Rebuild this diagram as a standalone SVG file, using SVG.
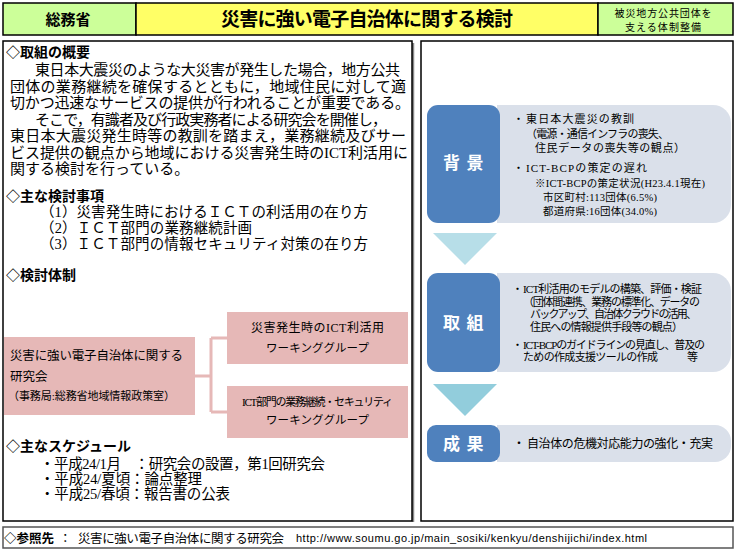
<svg xmlns="http://www.w3.org/2000/svg" width="737" height="551" viewBox="0 0 737 551">
<style>
.g{font-family:'Noto Sans CJK JP','Noto Sans',sans-serif;fill:#000}
.gb{font-family:'Noto Sans CJK JP','Noto Sans',sans-serif;font-weight:bold;fill:#000}
.m{font-family:'Liberation Serif','Noto Sans CJK JP',serif;fill:#000}
.h{font-size:14px}
.b{font-size:15px}
.i{font-size:14.5px}
.r{font-size:11px}
.frame{fill:#fff;stroke:#000;stroke-width:1.5}
.hd{stroke:#000;stroke-width:1.5}
.pink{fill:#e6b8b7}
.blue{fill:#4f81bd}
.lt{fill:#dae0ea}
.lab{font-family:'Noto Sans CJK JP',sans-serif;font-weight:bold;font-size:17px;fill:#fff;text-anchor:middle}
.ctr{text-anchor:middle}
.conn{fill:none;stroke:#e6b8b7;stroke-width:3}
</style>
<rect width="737" height="551" fill="#fff"/>

<g id="header">
<rect class="hd" x="3" y="3" width="133" height="32" fill="#ccff99"/>
<rect class="hd" x="136" y="3" width="462" height="32" fill="#ffff66"/>
<rect class="hd" x="598" y="3" width="135" height="32" fill="#ccff99"/>
<text class="gb ctr" x="68" y="24.5" font-size="15">総務省</text>
<text class="gb ctr" x="367" y="26" font-size="19" textLength="292">災害に強い電子自治体に関する検討</text>
<text class="g ctr" x="663" y="16.5" font-size="10" textLength="97">被災地方公共団体を</text>
<text class="g ctr" x="663" y="31" font-size="10" textLength="76">支える体制整備</text>
</g>

<g id="left-panel">
<line x1="413" y1="43" x2="413" y2="522" stroke="#888" stroke-width="2.5"/>
<rect class="frame" x="3" y="41" width="409" height="480"/>
<text class="gb h" x="6" y="57">◇取組の概要</text>
<text class="m b" x="35" y="75" textLength="365">東日本大震災のような大災害が発生した場合，地方公共</text>
<text class="m b" x="10" y="91.5" textLength="396">団体の業務継続を確保するとともに，地域住民に対して適</text>
<text class="m b" x="10" y="108" textLength="400">切かつ迅速なサービスの提供が行われることが重要である。</text>
<text class="m b" x="35" y="124.5" textLength="352">そこで，有識者及び行政実務者による研究会を開催し，</text>
<text class="m b" x="10" y="141" textLength="396">東日本大震災発生時等の教訓を踏まえ，業務継続及びサー</text>
<text class="m b" x="10" y="157.5" textLength="398">ビス提供の観点から地域における災害発生時のICT利活用に</text>
<text class="m b" x="10" y="174">関する検討を行っている。</text>

<text class="gb h" x="6" y="201">◇主な検討事項</text>
<text class="m i" x="40" y="217" textLength="328">（1）災害発生時におけるＩＣＴの利活用の在り方</text>
<text class="m i" x="40" y="233" textLength="212">（2）ＩＣＴ部門の業務継続計画</text>
<text class="m i" x="40" y="249" textLength="328">（3）ＩＣＴ部門の情報セキュリティ対策の在り方</text>

<text class="gb h" x="6" y="280">◇検討体制</text>

<text class="gb h" x="6" y="451">◇主なスケジュール</text>
<text class="m i" x="40" y="469" textLength="285">・平成24/1月　：研究会の設置，第1回研究会</text>
<text class="m i" x="40" y="484" textLength="162">・平成24/夏頃：論点整理</text>
<text class="m i" x="40" y="499" textLength="190">・平成25/春頃：報告書の公表</text>
</g>

<g id="connectors">
<path class="conn" d="M195 376 H211 M211 338 V412 M211 338 H227 M211 412 H227"/>
</g>

<g id="node-kenkyukai">
<rect class="pink" x="4" y="337" width="191" height="78"/>
<text class="m" x="10" y="359.5" font-size="12.5" textLength="173">災害に強い電子自治体に関する</text>
<text class="m" x="10" y="380.5" font-size="12.5">研究会</text>
<text class="m" x="8" y="400" font-size="11" textLength="167">（事務局:総務省地域情報政策室）</text>
</g>

<g id="node-wg1">
<rect class="pink" x="227" y="312" width="181" height="52"/>
<text class="m ctr" x="317.5" y="331.5" font-size="12" textLength="133">災害発生時のICT利活用</text>
<text class="m ctr" x="317.5" y="351.5" font-size="11.5" textLength="103">ワーキンググループ</text>
</g>

<g id="node-wg2">
<rect class="pink" x="227" y="386" width="181" height="52"/>
<text class="m ctr" x="317.5" y="405.5" font-size="11" textLength="151">ICT部門の業務継続・セキュリティ</text>
<text class="m ctr" x="317.5" y="423.5" font-size="11.5" textLength="103">ワーキンググループ</text>
</g>

<g id="right-panel">
<rect class="frame" x="421" y="41" width="312" height="480"/>
</g>

<g id="node-haikei">
<path class="lt" d="M497 105 H713 A18 18 0 0 1 731 123 V205 A18 18 0 0 1 713 223 H497 Z"/>
<rect class="blue" x="427" y="105" width="73" height="118" rx="11"/>
<text class="lab" x="451.5 475" y="169">背景</text>
<text class="m r" x="513" y="123">・</text>
<text class="m r" x="526" y="123" textLength="108">東日本大震災の教訓</text>
<text class="m r" x="526" y="138" textLength="143">（電源・通信インフラの喪失、</text>
<text class="m r" x="535" y="152" textLength="150">住民データの喪失等の観点）</text>
<text class="m r" x="513" y="172">・</text>
<text class="m r" x="526" y="172" textLength="121">ICT-BCPの策定の遅れ</text>
<text class="m" x="535" y="187" font-size="10.5" textLength="170">※ICT-BCPの策定状況(H23.4.1現在)</text>
<text class="m" x="543" y="201" font-size="10.5" textLength="114">市区町村:113団体(6.5%)</text>
<text class="m" x="543" y="215" font-size="10.5" textLength="114">都道府県:16団体(34.0%)</text>
</g>

<g id="arrow-1">
<polygon points="433,233 497,233 465,265" fill="#b7dee8"/>
</g>

<g id="node-torikumi">
<path class="lt" d="M497 273 H713 A18 18 0 0 1 731 291 V354 A18 18 0 0 1 713 372 H497 Z"/>
<rect class="blue" x="427" y="273" width="73" height="99" rx="11"/>
<text class="lab" x="451.5 475" y="329">取組</text>
<text class="m r" x="512" y="292.5">・</text>
<text class="m r" x="523" y="292.5" textLength="179">ICT利活用のモデルの構築、評価・検証</text>
<text class="m r" x="523" y="305.5" textLength="177">（団体間連携、業務の標準化、データの</text>
<text class="m r" x="530" y="317.5" textLength="167">バックアップ、自治体クラウドの活用、</text>
<text class="m r" x="530" y="330.5" textLength="153">住民への情報提供手段等の観点）</text>
<text class="m r" x="512" y="348.5">・</text>
<text class="m r" x="523" y="348.5" textLength="182">ICT-BCPのガイドラインの見直し、普及の</text>
<text class="m r" x="523" y="360.5" textLength="135">ための作成支援ツールの作成</text>
<text class="m r" x="687" y="360.5">等</text>
</g>

<g id="arrow-2">
<polygon points="433,384 497,384 465,416" fill="#92cddc"/>
</g>

<g id="node-seika">
<path class="lt" d="M497 425 H715 A16 16 0 0 1 731 441 V446 A16 16 0 0 1 715 462 H497 Z"/>
<rect class="blue" x="427" y="425" width="73" height="37" rx="9"/>
<text class="lab" x="451.5 475" y="449.5">成果</text>
<text class="m" x="513" y="447.5" font-size="12">・</text>
<text class="m" x="527" y="447.5" font-size="12" textLength="186">自治体の危機対応能力の強化・充実</text>
</g>

<g id="footer">
<rect x="3" y="527" width="730" height="21" fill="#fff" stroke="#555" stroke-width="1.5"/>
<text class="gb" x="4" y="542.5" font-size="12.5">◇参照先</text>
<text class="g" x="59" y="542.5" font-size="12.5">：</text>
<text class="g" x="78" y="542.5" font-size="12.5" textLength="206">災害に強い電子自治体に関する研究会</text>
<text x="296" y="542" font-family="'Liberation Sans','Noto Sans',sans-serif" font-size="11" textLength="351">http://www.soumu.go.jp/main_sosiki/kenkyu/denshijichi/index.html</text>
</g>
</svg>
